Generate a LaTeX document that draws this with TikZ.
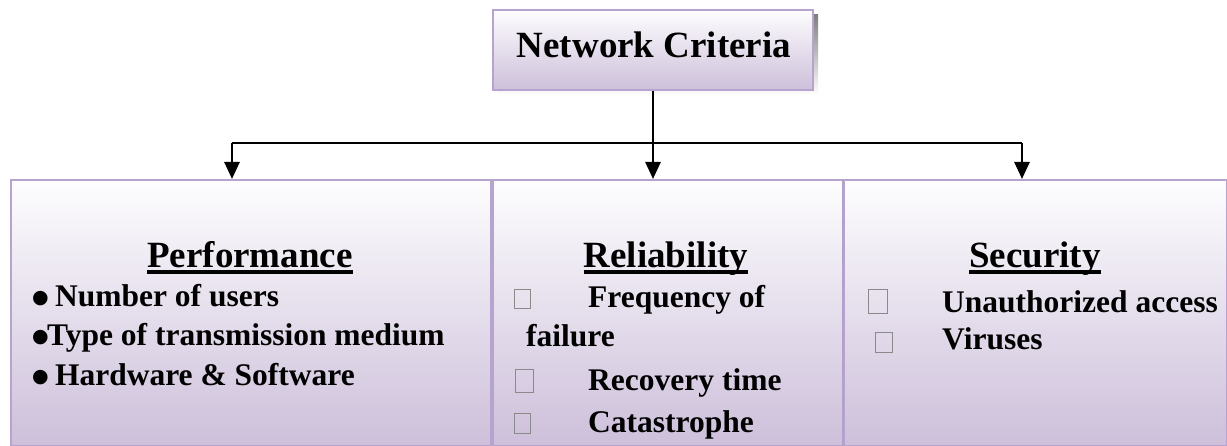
\documentclass[tikz,border=0pt]{standalone}
\usepackage{fontspec}
\setmainfont{Liberation Serif}
\newfontfamily\symfont{DejaVu Sans}
\usetikzlibrary{arrows.meta,calc}

\definecolor{frame}{HTML}{B6A4CF}
\definecolor{lavender}{HTML}{CDBFDA}
\definecolor{paleTop}{HTML}{FDFDFE}
\definecolor{shade}{HTML}{A597B5}
\definecolor{glyphbox}{HTML}{8A8A8A}

% a round list bullet, sitting on the text's centre line
\newcommand{\bigdot}{\makebox[15pt][l]{\raisebox{3.5pt}{\symfont\fontsize{19}{19}\selectfont ●}}}

\tikzset{
  panel/.style={draw=frame, line width=2pt, top color=paleTop, bottom color=lavender,
                anchor=north west, inner sep=0pt},
  titlebox/.style={draw=frame, line width=2pt, top color=paleTop, bottom color=lavender,
                   minimum width=320pt, minimum height=80pt, inner sep=0pt},
  heading/.style={font=\fontsize{37}{40}\selectfont\bfseries, anchor=base, inner sep=0pt},
  item/.style={font=\fontsize{31.5}{34}\selectfont\bfseries, anchor=base west, inner sep=0pt},
  missing/.style={draw=glyphbox, line width=0.7pt, anchor=north west, inner sep=0pt},
  link/.style={line width=2pt, black},
  arrow/.style={line width=2.6pt, black, -{Triangle[width=15pt,length=17pt]}},
  uline/.style={line width=3.6pt, black}
}

\begin{document}
\begin{tikzpicture}[x=1pt,y=-1pt]
  \useasboundingbox (0,0) rectangle (1227,446);
  \fill[white] (0,0) rectangle (1227,446);

  % title box with its drop shadow
  \fill[shade] (497,15) rectangle (818,95);
  \node[titlebox] (top) at (653,50) {};
  \node[heading] (toptext) at (654,58) {Network Criteria};

  % the three criteria panels
  \node[panel, minimum width=480pt, minimum height=266pt] (perf) at (10,179) {};
  \fill[shade] (841,182) rectangle (845,446);
  \node[panel, minimum width=350pt, minimum height=266pt] (rel) at (492,179) {};
  \node[panel, minimum width=383pt, minimum height=266pt] (sec) at (843,179) {};
  \draw[frame!80!shade, line width=2pt] (sec.north west) -- (sec.south west);

  % connectors
  \coordinate (lj) at (232,143);
  \coordinate (rj) at (1022,143);
  \draw[link] (lj) -- (rj);
  \draw[arrow] (top.south) -- (top.south |- rel.north);
  \draw[arrow] (lj) -- (lj |- perf.north);
  \draw[arrow] (rj) -- (rj |- sec.north);

  % Performance
  \node[heading] (perfh) at (250,268) {Performance};
  \draw[uline] ($(perfh.base west)+(0,4)$) -- ($(perfh.base east)+(0,4)$);
  \node[item] (p1) at (32,307) {\bigdot\ Number of users};
  \node[item] (p2) at (32,346) {\bigdot Type of transmission medium};
  \node[item] (p3) at (32,386) {\bigdot\ Hardware \& Software};

  % Reliability
  \node[heading] (relh) at (666,268) {Reliability};
  \draw[uline] ($(relh.base west)+(0,4)$) -- ($(relh.base east)+(0,4)$);
  \node[missing, minimum width=16pt, minimum height=19pt] (rb1) at (514,289) {};
  \node[item] (r1) at (588,308) {Frequency of};
  \node[item] (r1b) at (526,347) {failure};
  \node[missing, minimum width=18pt, minimum height=23pt] (rb2) at (515,369) {};
  \node[item] (r2) at (588,391) {Recovery time};
  \node[missing, minimum width=16pt, minimum height=20pt] (rb3) at (514,413) {};
  \node[item] (r3) at (588,432) {Catastrophe};

  % Security
  \node[heading] (sech) at (1035,268) {Security};
  \draw[uline] ($(sech.base west)+(0,4)$) -- ($(sech.base east)+(0,4)$);
  \node[missing, minimum width=19pt, minimum height=24pt] (sb1) at (868,289) {};
  \node[item] (s1) at (942,313) {Unauthorized access};
  \node[missing, minimum width=17pt, minimum height=20pt] (sb2) at (875,332) {};
  \node[item] (s2) at (942,350) {Viruses};
\end{tikzpicture}
\end{document}
